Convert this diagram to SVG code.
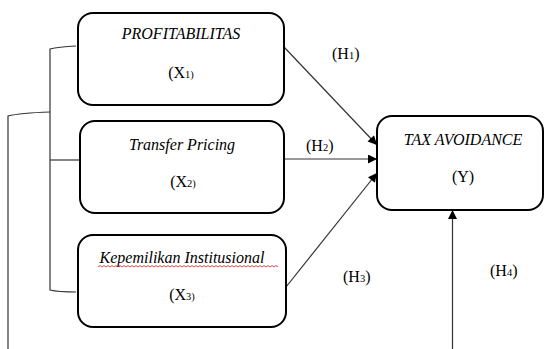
<svg xmlns="http://www.w3.org/2000/svg" width="544" height="349" viewBox="0 0 544 349">
<style>
.box{fill:#fff;stroke:#000;stroke-width:2}
.t{font-family:"Liberation Serif","Times New Roman",serif;font-size:16px;fill:#000;text-anchor:middle}
.i{font-style:italic}
.lbl{font-family:"Liberation Serif","Times New Roman",serif;font-size:16px;fill:#000}
.c{fill:none;stroke:#333;stroke-width:1.2}
.s{font-size:10.5px}
</style>
<defs>
<marker id="ah" viewBox="0 0 10 10" refX="10" refY="5" markerWidth="10" markerHeight="9" markerUnits="userSpaceOnUse" orient="auto">
<path d="M0,0 L10,5 L0,10 z" fill="#000"/>
</marker>
</defs>
<rect width="544" height="349" fill="#fff"/>
<g id="connectors">
<path class="c" d="M76,46 Q58,47 50,49 L50,290 Q58,292 76,292"/>
<path class="c" d="M50,160 L80,160"/>
<path class="c" d="M50,112 Q20,113 8,116 L8,349"/>
<path class="c" d="M284,47 L377,145" marker-end="url(#ah)"/>
<path class="c" d="M284,159 L377,159" marker-end="url(#ah)"/>
<path class="c" d="M286,287 L377,173" marker-end="url(#ah)"/>
<path class="c" d="M452.5,349 L452.5,210" marker-end="url(#ah)"/>
</g>
<g id="x1">
<rect class="box" x="78" y="13" width="206" height="92" rx="15"/>
<text class="t i" x="181" y="39">PROFITABILITAS</text>
<text class="t" x="181" y="78">(X<tspan class="s">1)</tspan></text>
</g>
<g id="x2">
<rect class="box" x="80" y="121" width="204" height="92" rx="15"/>
<text class="t i" x="182" y="150">Transfer Pricing</text>
<text class="t" x="183" y="187">(X<tspan class="s">2)</tspan></text>
</g>
<g id="x3">
<rect class="box" x="78" y="235" width="208" height="92" rx="15"/>
<text class="t i" x="182" y="263">Kepemilikan Institusional</text>
<path d="M98,267 l2,-1.5 l2,1.5 l2,-1.5 l2,1.5 l2,-1.5 l2,1.5 l2,-1.5 l2,1.5 l2,-1.5 l2,1.5 l2,-1.5 l2,1.5 l2,-1.5 l2,1.5 l2,-1.5 l2,1.5 l2,-1.5 l2,1.5 l2,-1.5 l2,1.5 l2,-1.5 l2,1.5 l2,-1.5 l2,1.5 l2,-1.5 l2,1.5 l2,-1.5 l2,1.5 l2,-1.5 l2,1.5 l2,-1.5 l2,1.5 l2,-1.5 l2,1.5 l2,-1.5 l2,1.5 l2,-1.5 l2,1.5 l2,-1.5 l2,1.5 l2,-1.5 l2,1.5 l2,-1.5 l2,1.5 l2,-1.5 l2,1.5 l2,-1.5 l2,1.5 l2,-1.5 l2,1.5 l2,-1.5 l2,1.5 l2,-1.5 l2,1.5 l2,-1.5 l2,1.5 l2,-1.5 l2,1.5 l2,-1.5 l2,1.5 l2,-1.5 l2,1.5 l2,-1.5 l2,1.5 l2,-1.5 l2,1.5 l2,-1.5 l2,1.5 l2,-1.5 l2,1.5 l2,-1.5 l2,1.5 l2,-1.5 l2,1.5 l2,-1.5 l2,1.5 l2,-1.5 l2,1.5 l2,-1.5 l2,1.5 l2,-1.5 l2,1.5 l2,-1.5 l2,1.5 l2,-1.5 l2,1.5 l2,-1.5 l2,1.5 l2,-1.5 l2,1.5" fill="none" stroke="#e02020" stroke-width="0.8"/>
<text class="t" x="182" y="300">(X<tspan class="s">3)</tspan></text>
</g>
<g id="y">
<rect class="box" x="377" y="116" width="166" height="94" rx="15"/>
<text class="t i" x="463" y="145">TAX AVOIDANCE</text>
<text class="t" x="463" y="182">(Y)</text>
</g>
<g id="labels">
<text class="lbl" x="332" y="59">(H<tspan class="s">1</tspan>)</text>
<text class="lbl" x="306" y="151">(H<tspan class="s">2</tspan>)</text>
<text class="lbl" x="343" y="282">(H<tspan class="s">3</tspan>)</text>
<text class="lbl" x="490" y="276">(H<tspan class="s">4</tspan>)</text>
</g>
</svg>
